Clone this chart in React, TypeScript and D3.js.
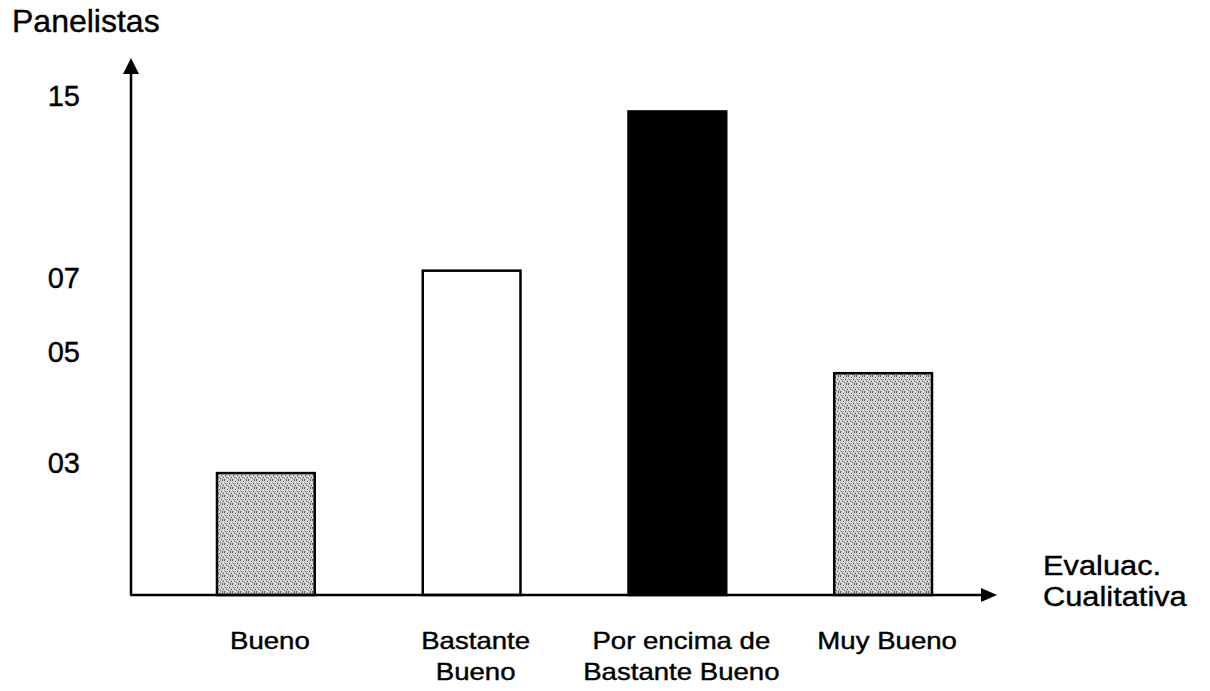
import * as d3 from "d3";

// data
const categories = ["Bueno", "Bastante Bueno", "Por encima de Bastante Bueno", "Muy Bueno"];
const labelLines = [["Bueno"], ["Bastante", "Bueno"], ["Por encima de", "Bastante Bueno"], ["Muy Bueno"]];
const panelistas = [2.75, 7.3, 14.3, 4.6];
const fills = ["url(#stipple)", "#ffffff", "#000000", "url(#stipple)"];
const tickValues = [3, 5, 7, 15];
const tickLabels = ["03", "05", "07", "15"];

const width = 1210;
const height = 691;
const axisX = 131;
const baseY = 595;
const font = "'Liberation Sans', Arial, sans-serif";

// the original axis is hand drawn, ticks are not evenly spaced
const y = d3.scaleLinear().domain([0, 3, 5, 7, 15]).range([baseY, 462, 351, 277.5, 95.5]);

const x = d3.scaleBand<string>()
  .domain(categories)
  .range([axisX, 1018])
  .paddingInner(0.525)
  .paddingOuter(0.418);

// fixed speckle for the grey bars
const darkDots = [[0, 0], [3, 1], [6, 0], [1, 3], [5, 3], [2, 5], [7, 5], [4, 6], [0, 7], [6, 7]];
const lightDots = [[2, 1], [7, 2], [4, 3], [0, 5], [5, 5], [3, 7]];

export default function App() {
  const yTop = 58;
  const xEnd = 997;
  return (
    <svg width={width} height={height} style={{ position: "absolute", left: 0, top: 0, background: "#fff" }}>
      <defs>
        <pattern id="stipple" width={8} height={8} patternUnits="userSpaceOnUse">
          <rect width={8} height={8} fill="#c9c9c9" />
          {darkDots.map(([a, b], i) => (
            <rect key={"d" + i} x={a} y={b} width={1} height={1} fill="#5e5e5e" />
          ))}
          {lightDots.map(([a, b], i) => (
            <rect key={"l" + i} x={a} y={b} width={1} height={1} fill="#ffffff" />
          ))}
        </pattern>
      </defs>

      {/* bars */}
      {categories.map((c, i) => (
        <rect
          key={c}
          x={x(c)}
          y={y(panelistas[i])}
          width={x.bandwidth()}
          height={baseY - y(panelistas[i])}
          fill={fills[i]}
          stroke="#000"
          strokeWidth={2.5}
        />
      ))}

      {/* axes */}
      <line x1={axisX} y1={baseY} x2={axisX} y2={yTop + 12} stroke="#000" strokeWidth={2.5} />
      <path d={`M${axisX},${yTop} L${axisX - 8},${yTop + 16} L${axisX + 8},${yTop + 16} Z`} fill="#000" />
      <line x1={axisX - 1} y1={baseY} x2={xEnd - 12} y2={baseY} stroke="#000" strokeWidth={2.5} />
      <path d={`M${xEnd},${baseY} L${xEnd - 16},${baseY - 7} L${xEnd - 16},${baseY + 7} Z`} fill="#000" />

      <g fontFamily={font} fill="#000" stroke="#000" strokeWidth={0.4}>
        {/* y tick labels */}
        {tickValues.map((v, i) => (
          <text key={v} x={80} y={y(v) + 10.5} textAnchor="end" fontSize={29}>
            {tickLabels[i]}
          </text>
        ))}

        {/* category labels */}
        {categories.map((c, i) =>
          labelLines[i].map((line, j) => (
            <text
              key={c + j}
              transform={`translate(${(x(c) ?? 0) + x.bandwidth() / 2 + 4},${649 + j * 31}) scale(1.2,1)`}
              textAnchor="middle"
              fontSize={23}
            >
              {line}
            </text>
          ))
        )}

        {/* axis titles */}
        <text x={12} y={32} fontSize={32}>Panelistas</text>
        <text transform="translate(1043,575) scale(1.1,1)" fontSize={28}>Evaluac.</text>
        <text transform="translate(1043,606) scale(1.1,1)" fontSize={28}>Cualitativa</text>
      </g>
    </svg>
  );
}
